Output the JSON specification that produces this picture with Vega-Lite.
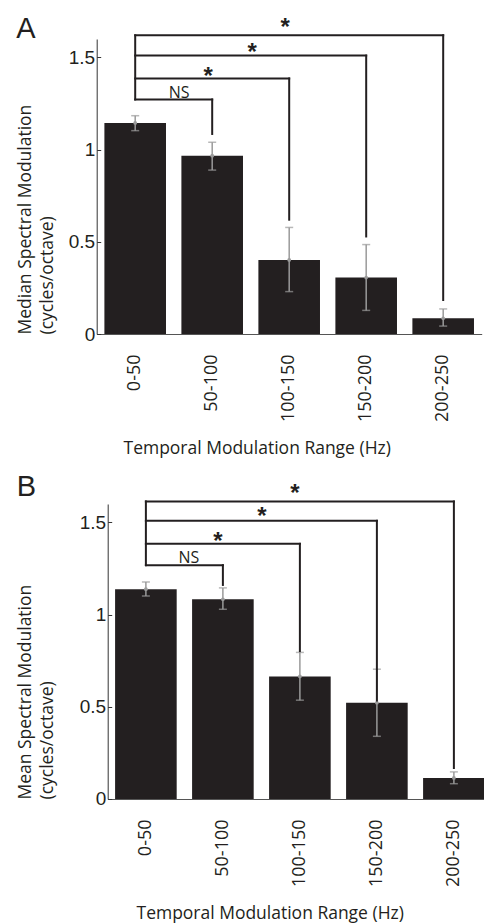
{
  "$schema": "https://vega.github.io/schema/vega-lite/v6.json",
  "background": "white",
  "padding": {"left": 14.7, "top": 15, "right": 0, "bottom": 0},
  "config": {"view": {"stroke": null}, "font": "Open Sans"},
  "datasets": {
    "bars": [
      {"panel": "A", "range": "0-50", "value": 1.145, "lo": 1.103, "hi": 1.184},
      {"panel": "A", "range": "50-100", "value": 0.967, "lo": 0.889, "hi": 1.04},
      {"panel": "A", "range": "100-150", "value": 0.402, "lo": 0.23, "hi": 0.578},
      {"panel": "A", "range": "150-200", "value": 0.306, "lo": 0.128, "hi": 0.485},
      {"panel": "A", "range": "200-250", "value": 0.085, "lo": 0.043, "hi": 0.136},
      {"panel": "B", "range": "0-50", "value": 1.138, "lo": 1.101, "hi": 1.177},
      {"panel": "B", "range": "50-100", "value": 1.083, "lo": 1.029, "hi": 1.145},
      {"panel": "B", "range": "100-150", "value": 0.665, "lo": 0.536, "hi": 0.795},
      {"panel": "B", "range": "150-200", "value": 0.522, "lo": 0.34, "hi": 0.704},
      {"panel": "B", "range": "200-250", "value": 0.114, "lo": 0.083, "hi": 0.147}
    ],
    "brackets": [
      {"panel": "A", "from": "0-50", "to": "50-100", "level": 1.272, "end": 1.085, "sig": "NS", "labelAt": "0-50", "labelY": 1.311},
      {"panel": "A", "from": "0-50", "to": "100-150", "level": 1.386, "end": 0.62, "sig": "*", "labelAt": "50-100", "labelY": 1.429},
      {"panel": "A", "from": "0-50", "to": "150-200", "level": 1.51, "end": 0.529, "sig": "*", "labelAt": "50-100", "labelY": 1.557},
      {"panel": "A", "from": "0-50", "to": "200-250", "level": 1.62, "end": 0.185, "sig": "*", "labelAt": "100-150", "labelY": 1.69},
      {"panel": "B", "from": "0-50", "to": "50-100", "level": 1.268, "end": 1.161, "sig": "NS", "labelAt": "0-50", "labelY": 1.31},
      {"panel": "B", "from": "0-50", "to": "100-150", "level": 1.384, "end": 0.802, "sig": "*", "labelAt": "50-100", "labelY": 1.427},
      {"panel": "B", "from": "0-50", "to": "150-200", "level": 1.509, "end": 0.534, "sig": "*", "labelAt": "50-100", "labelY": 1.56},
      {"panel": "B", "from": "0-50", "to": "200-250", "level": 1.614, "end": 0.168, "sig": "*", "labelAt": "100-150", "labelY": 1.685}
    ],
    "stems": [
      {"panel": "A", "at": "0-50", "top": 1.62, "bottom": 1.272},
      {"panel": "B", "at": "0-50", "top": 1.614, "bottom": 1.268}
    ],
    "none": []
  },
  "spacing": 15,
  "vconcat": [
    {
      "spacing": 0,
      "hconcat": [
        {"width": 1, "height": 1, "data": {"name": "none"}, "mark": "point", "encoding": {}},
        {
          "title": {"text": "A", "anchor": "start", "frame": "bounds", "font": "Liberation Sans", "fontSize": 29, "fontWeight": "normal", "color": "#231f20", "offset": -28},
          "width": 385,
          "height": 295,
          "layer": [
            {
              "data": {"name": "bars"},
              "transform": [{"filter": "datum.panel === 'A'"}],
              "mark": {"type": "bar", "color": "#231f20"},
              "encoding": {
                "x": {"field": "range", "type": "nominal", "sort": null,
                  "scale": {"domain": ["0-50", "50-100", "100-150", "150-200", "200-250"], "paddingInner": 0.2, "paddingOuter": 0.1},
                  "axis": {"title": "Temporal Modulation Range (Hz)", "labelAngle": -90, "labelAlign": "right", "labelBaseline": "middle", "ticks": false, "labelPadding": 20, "labelFont": "Open Sans", "labelFontSize": 18, "labelColor": "#231f20", "titleFont": "Open Sans", "titleFontSize": 17.5, "titleFontWeight": "normal", "titleColor": "#231f20", "titlePadding": 18, "titleX": 160, "domainColor": "#555", "domainWidth": 1.2}},
                "y": {"field": "value", "type": "quantitative",
                  "scale": {"domain": [0, 1.6], "nice": false},
                  "axis": {"title": ["Median Spectral Modulation", "(cycles/octave)"], "values": [0, 0.5, 1, 1.5], "format": "~g", "grid": false, "tickSize": -4, "tickColor": "#333", "domainColor": "#333", "labelFont": "Liberation Sans", "labelFontSize": 19, "labelColor": "#231f20", "labelPadding": 6, "titleFont": "Open Sans", "titleFontSize": 17.5, "titleFontWeight": "normal", "titleColor": "#231f20", "titleAnchor": "start", "titlePadding": 12, "titleLineHeight": 22}}
              }
            },
            {
              "data": {"name": "bars"},
              "transform": [{"filter": "datum.panel === 'A'"}],
              "mark": {"type": "rule", "color": "#9a9a9a", "strokeWidth": 1.5},
              "encoding": {"x": {"field": "range", "type": "nominal"}, "y": {"field": "lo", "type": "quantitative"}, "y2": {"field": "hi"}}
            },
            {
              "data": {"name": "bars"},
              "transform": [{"filter": "datum.panel === 'A'"}],
              "mark": {"type": "tick", "color": "#9a9a9a", "size": 8, "thickness": 1.5},
              "encoding": {"x": {"field": "range", "type": "nominal"}, "y": {"field": "lo", "type": "quantitative"}}
            },
            {
              "data": {"name": "bars"},
              "transform": [{"filter": "datum.panel === 'A'"}],
              "mark": {"type": "tick", "color": "#9a9a9a", "size": 8, "thickness": 1.5},
              "encoding": {"x": {"field": "range", "type": "nominal"}, "y": {"field": "hi", "type": "quantitative"}}
            },
            {
              "data": {"name": "bars"},
              "transform": [{"filter": "datum.panel === 'A'"}],
              "mark": {"type": "point", "filled": true, "color": "#9a9a9a", "size": 14, "opacity": 1},
              "encoding": {"x": {"field": "range", "type": "nominal"}, "y": {"field": "value", "type": "quantitative"}}
            },
            {
              "data": {"name": "brackets"},
              "transform": [{"filter": "datum.panel === 'A'"}],
              "mark": {"type": "rule", "color": "#231f20", "strokeWidth": 2, "strokeCap": "square"},
              "encoding": {"x": {"field": "from", "type": "nominal"}, "x2": {"field": "to"}, "y": {"field": "level", "type": "quantitative"}}
            },
            {
              "data": {"name": "brackets"},
              "transform": [{"filter": "datum.panel === 'A'"}],
              "mark": {"type": "rule", "color": "#231f20", "strokeWidth": 2, "strokeCap": "square"},
              "encoding": {"x": {"field": "to", "type": "nominal"}, "y": {"field": "level", "type": "quantitative"}, "y2": {"field": "end"}}
            },
            {
              "data": {"name": "stems"},
              "transform": [{"filter": "datum.panel === 'A'"}],
              "mark": {"type": "rule", "color": "#231f20", "strokeWidth": 2, "strokeCap": "square"},
              "encoding": {"x": {"field": "at", "type": "nominal"}, "y": {"field": "top", "type": "quantitative"}, "y2": {"field": "bottom"}}
            },
            {
              "data": {"name": "brackets"},
              "transform": [{"filter": "datum.panel === 'A' && (datum.to === '100-150' || datum.to === '200-250')"}],
              "mark": {"type": "text", "font": "Liberation Sans", "fontWeight": "bold", "fontSize": 24, "color": "#231f20", "baseline": "middle", "dx": -4, "dy": 6},
              "encoding": {"x": {"field": "labelAt", "type": "nominal"}, "y": {"field": "labelY", "type": "quantitative"}, "text": {"field": "sig"}}
            },
            {
              "data": {"name": "brackets"},
              "transform": [{"filter": "datum.panel === 'A' && datum.to === '150-200'"}],
              "mark": {"type": "text", "font": "Liberation Sans", "fontWeight": "bold", "fontSize": 24, "color": "#231f20", "baseline": "middle", "dx": 40, "dy": 6},
              "encoding": {"x": {"field": "labelAt", "type": "nominal"}, "y": {"field": "labelY", "type": "quantitative"}, "text": {"field": "sig"}}
            },
            {
              "data": {"name": "brackets"},
              "transform": [{"filter": "datum.panel === 'A' && datum.to === '50-100'"}],
              "mark": {"type": "text", "font": "Open Sans", "fontSize": 16, "color": "#231f20", "baseline": "middle", "dx": 44, "dy": 1},
              "encoding": {"x": {"field": "labelAt", "type": "nominal"}, "y": {"field": "labelY", "type": "quantitative"}, "text": {"field": "sig"}}
            }
          ]
        }
      ]
    },
    {
      "spacing": 0,
      "hconcat": [
        {"width": 1, "height": 1, "data": {"name": "none"}, "mark": "point", "encoding": {}},
        {
          "title": {"text": "B", "anchor": "start", "frame": "bounds", "font": "Liberation Sans", "fontSize": 29, "fontWeight": "normal", "color": "#231f20", "offset": -20},
          "width": 377,
          "height": 295,
          "layer": [
            {
              "data": {"name": "bars"},
              "transform": [{"filter": "datum.panel === 'B'"}],
              "mark": {"type": "bar", "color": "#231f20"},
              "encoding": {
                "x": {"field": "range", "type": "nominal", "sort": null,
                  "scale": {"domain": ["0-50", "50-100", "100-150", "150-200", "200-250"], "paddingInner": 0.2, "paddingOuter": 0.048, "align": 1},
                  "axis": {"title": "Temporal Modulation Range (Hz)", "labelAngle": -90, "labelAlign": "right", "labelBaseline": "middle", "ticks": false, "labelPadding": 20, "labelFont": "Open Sans", "labelFontSize": 18, "labelColor": "#231f20", "titleFont": "Open Sans", "titleFontSize": 17.5, "titleFontWeight": "normal", "titleColor": "#231f20", "titlePadding": 18, "titleX": 162, "domainColor": "#555", "domainWidth": 1.2}},
                "y": {"field": "value", "type": "quantitative",
                  "scale": {"domain": [0, 1.6], "nice": false},
                  "axis": {"title": ["Mean Spectral Modulation", "(cycles/octave)"], "values": [0, 0.5, 1, 1.5], "format": "~g", "grid": false, "tickSize": -4, "tickColor": "#333", "domainColor": "#333", "labelFont": "Liberation Sans", "labelFontSize": 19, "labelColor": "#231f20", "labelPadding": 6, "titleFont": "Open Sans", "titleFontSize": 17.5, "titleFontWeight": "normal", "titleColor": "#231f20", "titleAnchor": "start", "titlePadding": 22.6, "titleLineHeight": 22}}
              }
            },
            {
              "data": {"name": "bars"},
              "transform": [{"filter": "datum.panel === 'B'"}],
              "mark": {"type": "rule", "color": "#9a9a9a", "strokeWidth": 1.5},
              "encoding": {"x": {"field": "range", "type": "nominal"}, "y": {"field": "lo", "type": "quantitative"}, "y2": {"field": "hi"}}
            },
            {
              "data": {"name": "bars"},
              "transform": [{"filter": "datum.panel === 'B'"}],
              "mark": {"type": "tick", "color": "#9a9a9a", "size": 8, "thickness": 1.5},
              "encoding": {"x": {"field": "range", "type": "nominal"}, "y": {"field": "lo", "type": "quantitative"}}
            },
            {
              "data": {"name": "bars"},
              "transform": [{"filter": "datum.panel === 'B'"}],
              "mark": {"type": "tick", "color": "#9a9a9a", "size": 8, "thickness": 1.5},
              "encoding": {"x": {"field": "range", "type": "nominal"}, "y": {"field": "hi", "type": "quantitative"}}
            },
            {
              "data": {"name": "bars"},
              "transform": [{"filter": "datum.panel === 'B'"}],
              "mark": {"type": "point", "filled": true, "color": "#9a9a9a", "size": 14, "opacity": 1},
              "encoding": {"x": {"field": "range", "type": "nominal"}, "y": {"field": "value", "type": "quantitative"}}
            },
            {
              "data": {"name": "brackets"},
              "transform": [{"filter": "datum.panel === 'B'"}],
              "mark": {"type": "rule", "color": "#231f20", "strokeWidth": 2, "strokeCap": "square"},
              "encoding": {"x": {"field": "from", "type": "nominal"}, "x2": {"field": "to"}, "y": {"field": "level", "type": "quantitative"}}
            },
            {
              "data": {"name": "brackets"},
              "transform": [{"filter": "datum.panel === 'B'"}],
              "mark": {"type": "rule", "color": "#231f20", "strokeWidth": 2, "strokeCap": "square"},
              "encoding": {"x": {"field": "to", "type": "nominal"}, "y": {"field": "level", "type": "quantitative"}, "y2": {"field": "end"}}
            },
            {
              "data": {"name": "stems"},
              "transform": [{"filter": "datum.panel === 'B'"}],
              "mark": {"type": "rule", "color": "#231f20", "strokeWidth": 2, "strokeCap": "square"},
              "encoding": {"x": {"field": "at", "type": "nominal"}, "y": {"field": "top", "type": "quantitative"}, "y2": {"field": "bottom"}}
            },
            {
              "data": {"name": "brackets"},
              "transform": [{"filter": "datum.panel === 'B' && (datum.to === '100-150' || datum.to === '200-250')"}],
              "mark": {"type": "text", "font": "Liberation Sans", "fontWeight": "bold", "fontSize": 24, "color": "#231f20", "baseline": "middle", "dx": -5, "dy": 6},
              "encoding": {"x": {"field": "labelAt", "type": "nominal"}, "y": {"field": "labelY", "type": "quantitative"}, "text": {"field": "sig"}}
            },
            {
              "data": {"name": "brackets"},
              "transform": [{"filter": "datum.panel === 'B' && datum.to === '150-200'"}],
              "mark": {"type": "text", "font": "Liberation Sans", "fontWeight": "bold", "fontSize": 24, "color": "#231f20", "baseline": "middle", "dx": 39, "dy": 6},
              "encoding": {"x": {"field": "labelAt", "type": "nominal"}, "y": {"field": "labelY", "type": "quantitative"}, "text": {"field": "sig"}}
            },
            {
              "data": {"name": "brackets"},
              "transform": [{"filter": "datum.panel === 'B' && datum.to === '50-100'"}],
              "mark": {"type": "text", "font": "Open Sans", "fontSize": 16, "color": "#231f20", "baseline": "middle", "dx": 43, "dy": 1},
              "encoding": {"x": {"field": "labelAt", "type": "nominal"}, "y": {"field": "labelY", "type": "quantitative"}, "text": {"field": "sig"}}
            }
          ]
        }
      ]
    }
  ]
}
